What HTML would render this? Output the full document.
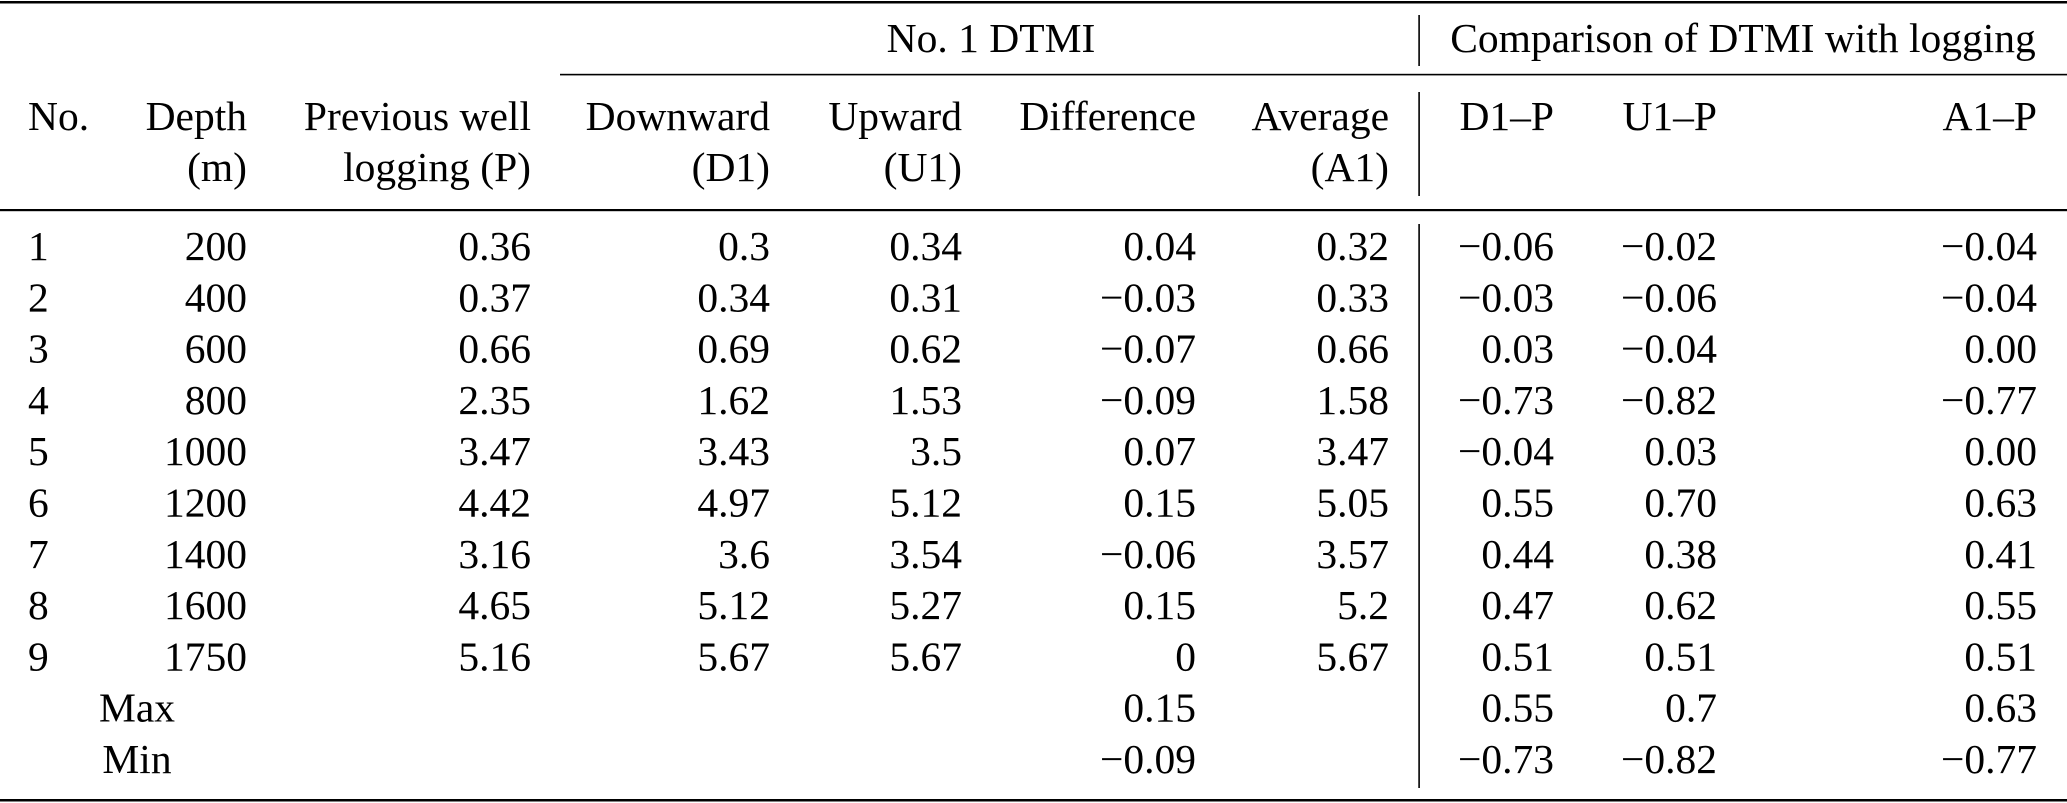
<!DOCTYPE html>
<html>
<head>
<meta charset="utf-8">
<style>
html,body{margin:0;padding:0;background:#fff;}
svg{display:block;}
text{font-family:"Liberation Serif","Times New Roman",serif;font-size:41.5px;fill:#000;}
.r{text-anchor:end;}
.m{text-anchor:middle;}
</style>
</head>
<body>
<svg width="2067" height="803" viewBox="0 0 2067 803" xmlns="http://www.w3.org/2000/svg">
<rect x="0" y="0" width="2067" height="803" fill="#fff"/>
<!-- rules -->
<rect x="0" y="1" width="2067" height="2.5" fill="#000"/>
<rect x="560" y="73.8" width="1507" height="1.6" fill="#000"/>
<rect x="0" y="209" width="2067" height="2.2" fill="#000"/>
<rect x="0" y="799" width="2067" height="2.5" fill="#000"/>
<!-- vertical line -->
<rect x="1418.3" y="15" width="1.6" height="51" fill="#000"/>
<rect x="1418.3" y="92" width="1.6" height="104" fill="#000"/>
<rect x="1418.3" y="224" width="1.6" height="564" fill="#000"/>

<!-- header row 1 -->
<text class="m" x="991" y="52">No. 1 DTMI</text>
<text class="m" x="1743" y="52">Comparison of DTMI with logging</text>

<!-- header row 2 -->
<text x="28" y="130">No.</text>
<text class="r" x="247" y="130">Depth</text>
<text class="r" x="247" y="181">(m)</text>
<text class="r" x="531" y="130">Previous well</text>
<text class="r" x="531" y="181">logging (P)</text>
<text class="r" x="770" y="130">Downward</text>
<text class="r" x="770" y="181">(D1)</text>
<text class="r" x="962" y="130">Upward</text>
<text class="r" x="962" y="181">(U1)</text>
<text class="r" x="1196" y="130">Difference</text>
<text class="r" x="1389" y="130">Average</text>
<text class="r" x="1389" y="181">(A1)</text>
<text class="r" x="1554" y="130">D1–P</text>
<text class="r" x="1717" y="130">U1–P</text>
<text class="r" x="2037" y="130">A1–P</text>

<!-- body -->
<g>
<text x="28" y="260">1</text><text class="r" x="247" y="260">200</text><text class="r" x="531" y="260">0.36</text><text class="r" x="770" y="260">0.3</text><text class="r" x="962" y="260">0.34</text><text class="r" x="1196" y="260">0.04</text><text class="r" x="1389" y="260">0.32</text><text class="r" x="1554" y="260">−0.06</text><text class="r" x="1717" y="260">−0.02</text><text class="r" x="2037" y="260">−0.04</text>

<text x="28" y="311.3">2</text><text class="r" x="247" y="311.3">400</text><text class="r" x="531" y="311.3">0.37</text><text class="r" x="770" y="311.3">0.34</text><text class="r" x="962" y="311.3">0.31</text><text class="r" x="1196" y="311.3">−0.03</text><text class="r" x="1389" y="311.3">0.33</text><text class="r" x="1554" y="311.3">−0.03</text><text class="r" x="1717" y="311.3">−0.06</text><text class="r" x="2037" y="311.3">−0.04</text>

<text x="28" y="362.6">3</text><text class="r" x="247" y="362.6">600</text><text class="r" x="531" y="362.6">0.66</text><text class="r" x="770" y="362.6">0.69</text><text class="r" x="962" y="362.6">0.62</text><text class="r" x="1196" y="362.6">−0.07</text><text class="r" x="1389" y="362.6">0.66</text><text class="r" x="1554" y="362.6">0.03</text><text class="r" x="1717" y="362.6">−0.04</text><text class="r" x="2037" y="362.6">0.00</text>

<text x="28" y="413.9">4</text><text class="r" x="247" y="413.9">800</text><text class="r" x="531" y="413.9">2.35</text><text class="r" x="770" y="413.9">1.62</text><text class="r" x="962" y="413.9">1.53</text><text class="r" x="1196" y="413.9">−0.09</text><text class="r" x="1389" y="413.9">1.58</text><text class="r" x="1554" y="413.9">−0.73</text><text class="r" x="1717" y="413.9">−0.82</text><text class="r" x="2037" y="413.9">−0.77</text>

<text x="28" y="465.2">5</text><text class="r" x="247" y="465.2">1000</text><text class="r" x="531" y="465.2">3.47</text><text class="r" x="770" y="465.2">3.43</text><text class="r" x="962" y="465.2">3.5</text><text class="r" x="1196" y="465.2">0.07</text><text class="r" x="1389" y="465.2">3.47</text><text class="r" x="1554" y="465.2">−0.04</text><text class="r" x="1717" y="465.2">0.03</text><text class="r" x="2037" y="465.2">0.00</text>

<text x="28" y="516.5">6</text><text class="r" x="247" y="516.5">1200</text><text class="r" x="531" y="516.5">4.42</text><text class="r" x="770" y="516.5">4.97</text><text class="r" x="962" y="516.5">5.12</text><text class="r" x="1196" y="516.5">0.15</text><text class="r" x="1389" y="516.5">5.05</text><text class="r" x="1554" y="516.5">0.55</text><text class="r" x="1717" y="516.5">0.70</text><text class="r" x="2037" y="516.5">0.63</text>

<text x="28" y="567.8">7</text><text class="r" x="247" y="567.8">1400</text><text class="r" x="531" y="567.8">3.16</text><text class="r" x="770" y="567.8">3.6</text><text class="r" x="962" y="567.8">3.54</text><text class="r" x="1196" y="567.8">−0.06</text><text class="r" x="1389" y="567.8">3.57</text><text class="r" x="1554" y="567.8">0.44</text><text class="r" x="1717" y="567.8">0.38</text><text class="r" x="2037" y="567.8">0.41</text>

<text x="28" y="619.1">8</text><text class="r" x="247" y="619.1">1600</text><text class="r" x="531" y="619.1">4.65</text><text class="r" x="770" y="619.1">5.12</text><text class="r" x="962" y="619.1">5.27</text><text class="r" x="1196" y="619.1">0.15</text><text class="r" x="1389" y="619.1">5.2</text><text class="r" x="1554" y="619.1">0.47</text><text class="r" x="1717" y="619.1">0.62</text><text class="r" x="2037" y="619.1">0.55</text>

<text x="28" y="670.4">9</text><text class="r" x="247" y="670.4">1750</text><text class="r" x="531" y="670.4">5.16</text><text class="r" x="770" y="670.4">5.67</text><text class="r" x="962" y="670.4">5.67</text><text class="r" x="1196" y="670.4">0</text><text class="r" x="1389" y="670.4">5.67</text><text class="r" x="1554" y="670.4">0.51</text><text class="r" x="1717" y="670.4">0.51</text><text class="r" x="2037" y="670.4">0.51</text>

<text class="m" x="137" y="721.7">Max</text><text class="r" x="1196" y="721.7">0.15</text><text class="r" x="1554" y="721.7">0.55</text><text class="r" x="1717" y="721.7">0.7</text><text class="r" x="2037" y="721.7">0.63</text>

<text class="m" x="137" y="773">Min</text><text class="r" x="1196" y="773">−0.09</text><text class="r" x="1554" y="773">−0.73</text><text class="r" x="1717" y="773">−0.82</text><text class="r" x="2037" y="773">−0.77</text>
</g>
</svg>
</body>
</html>
